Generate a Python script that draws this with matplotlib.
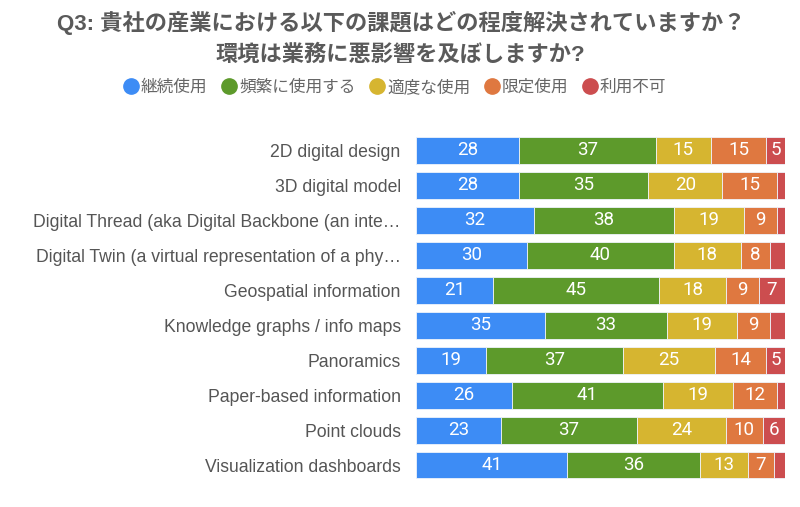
import matplotlib
matplotlib.use("Agg")
import matplotlib.pyplot as plt
from matplotlib.lines import Line2D

plt.rcParams['font.family'] = ['Liberation Sans', 'Noto Sans CJK JP', 'DejaVu Sans']

categories = [
    "2D digital design",
    "3D digital model",
    "Digital Thread (aka Digital Backbone (an inte…",
    "Digital Twin (a virtual representation of a phy…",
    "Geospatial information",
    "Knowledge graphs / info maps",
    "Panoramics",
    "Paper-based information",
    "Point clouds",
    "Visualization dashboards",
]
series_names = ["継続使用", "頻繁に使用する", "適度な使用", "限定使用", "利用不可"]
continuous = [28, 28, 32, 30, 21, 35, 19, 26, 23, 41]
frequent = [37, 35, 38, 40, 45, 33, 37, 41, 37, 36]
moderate = [15, 20, 19, 18, 18, 19, 25, 19, 24, 13]
limited = [15, 15, 9, 8, 9, 9, 14, 12, 10, 7]
unavailable = [5, 2, 2, 4, 7, 4, 5, 2, 6, 3]
series = [continuous, frequent, moderate, limited, unavailable]
colors = ["#3d8cf5", "#5d9a2b", "#d6b530", "#df7840", "#cc4d4f"]

fig = plt.figure(figsize=(8, 5.07), dpi=100)
fig.patch.set_facecolor("white")
ax = fig.add_axes([0.52, 0.0483, 0.461, 0.690])

y = list(range(len(categories)))
left = [0] * len(categories)
for name, vals, col in zip(series_names, series, colors):
    ax.barh(y, vals, left=left, height=0.77, color=col,
            edgecolor="#eef3fb", linewidth=0.6)
    # small segments are left unlabeled, as in the original
    for yi, l, v in zip(y, left, vals):
        if v >= 5:
            ax.text(l + v / 2, yi, str(v), ha="center", va="center",
                    color="white", fontsize=13.5, family=["Roboto"])
    left = [a + b for a, b in zip(left, vals)]

ax.set_xlim(0, 100)
ax.set_ylim(len(categories) - 0.5, -0.5)
ax.set_yticks(y)
ax.set_yticklabels(categories, fontsize=12.7, color="#555555")
ax.tick_params(axis="y", length=0, pad=11)
ax.set_xticks([])
for s in ax.spines.values():
    s.set_visible(False)

fig.text(0.502, 1 - 23 / 507, "Q3: 貴社の産業における以下の課題はどの程度解決されていますか？",
         ha="center", va="center", fontsize=16, fontweight="bold", color="#5a5a5a")
fig.text(0.5, 1 - 55 / 507, "環境は業務に悪影響を及ぼしますか?",
         ha="center", va="center", fontsize=16, fontweight="bold", color="#5a5a5a")

handles = [Line2D([], [], marker="o", linestyle="none", markersize=11,
                  markerfacecolor=c, markeredgecolor=c) for c in colors]
fig.legend(handles, series_names, loc="center", bbox_to_anchor=(0.492, 1 - 87 / 507),
           ncol=5, frameon=False, handletextpad=0.0, columnspacing=0.7,
           handlelength=1.2, prop={"size": 12}, labelcolor="#666666")

fig.savefig("out.png", dpi=100)
